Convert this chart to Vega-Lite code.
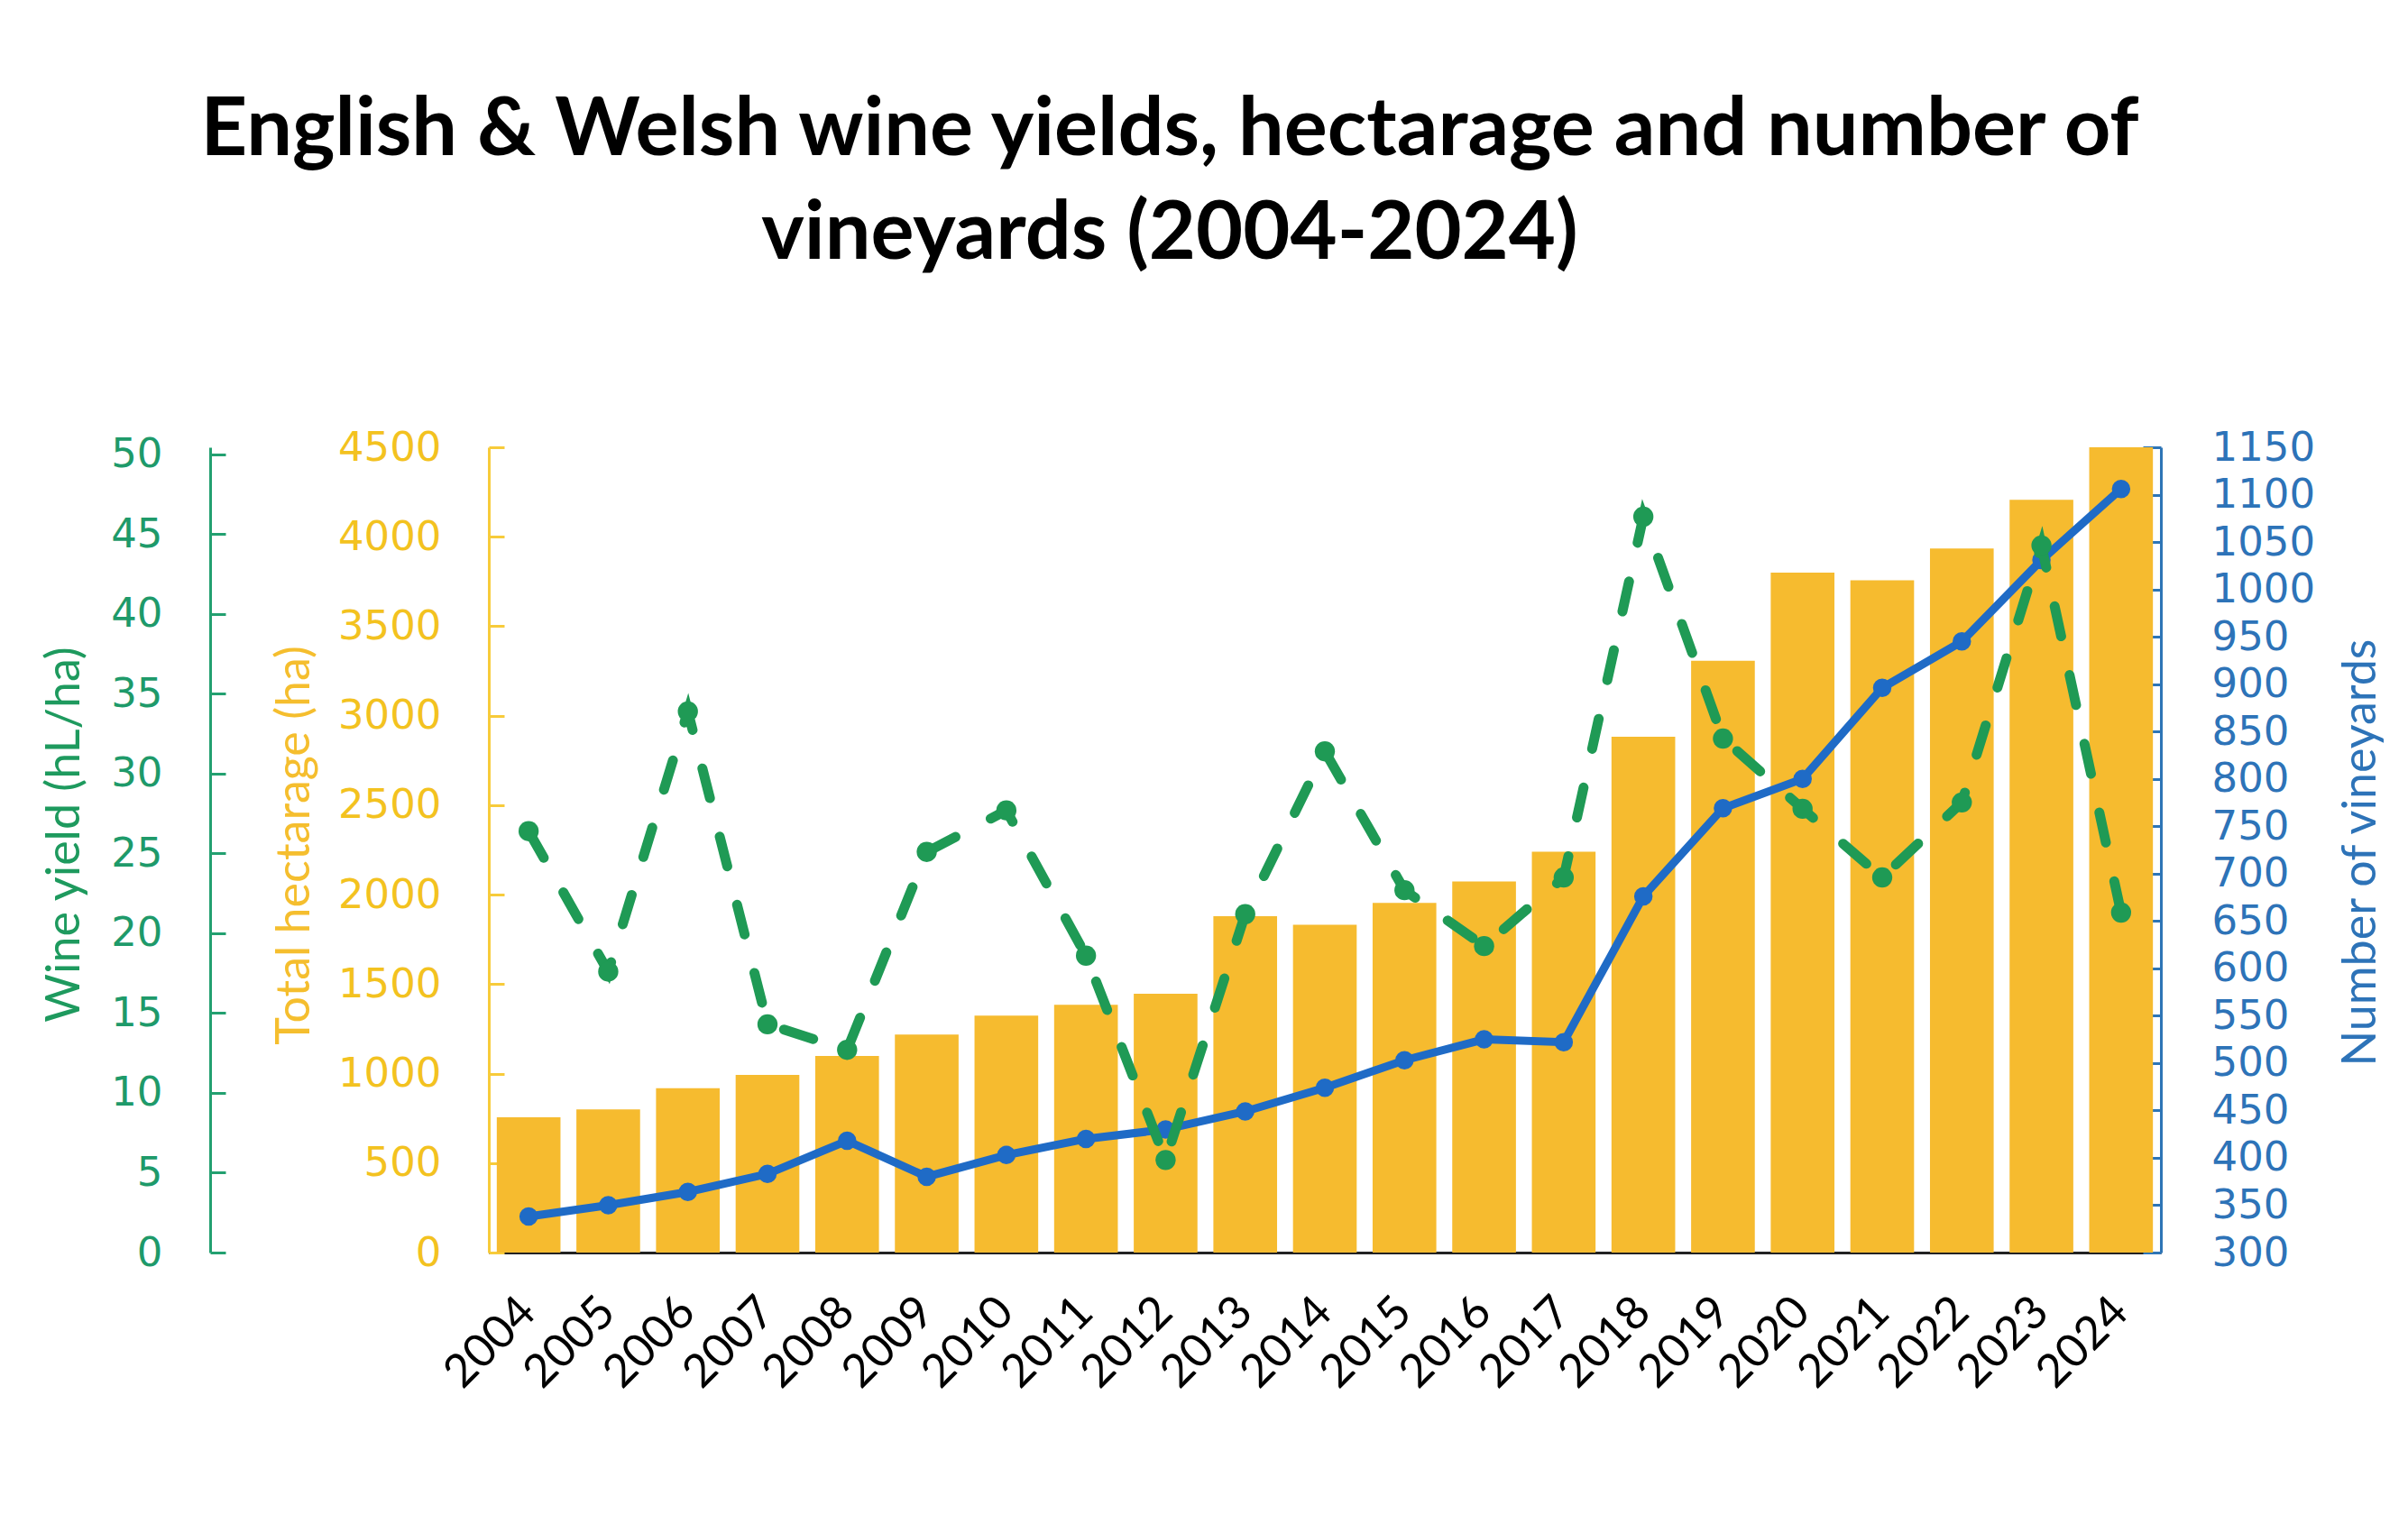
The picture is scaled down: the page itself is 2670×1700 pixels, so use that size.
{
  "$schema": "https://vega.github.io/schema/vega-lite/v6.json",
  "width": 1854,
  "height": 893,
  "autosize": {"type": "none"},
  "padding": {"left": 542, "top": 496, "right": 274, "bottom": 311},
  "background": "white",
  "title": {
    "text": ["English & Welsh wine yields, hectarage and number of", "vineyards (2004-2024)"],
    "font": "Lato",
    "fontSize": 90,
    "fontWeight": "bold",
    "color": "#000000",
    "lineHeight": 115,
    "anchor": "middle",
    "frame": "group",
    "dx": -172,
    "offset": 168
  },
  "data": {
    "values": [
      {"year": "2004", "ha": 756, "yield": 26.4, "vineyards": 338},
      {"year": "2005", "ha": 800, "yield": 17.6, "vineyards": 350},
      {"year": "2006", "ha": 919, "yield": 33.9, "vineyards": 364},
      {"year": "2007", "ha": 993, "yield": 14.3, "vineyards": 383},
      {"year": "2008", "ha": 1099, "yield": 12.7, "vineyards": 418},
      {"year": "2009", "ha": 1218, "yield": 25.1, "vineyards": 380},
      {"year": "2010", "ha": 1324, "yield": 27.7, "vineyards": 403},
      {"year": "2011", "ha": 1385, "yield": 18.6, "vineyards": 420},
      {"year": "2012", "ha": 1446, "yield": 5.8, "vineyards": 430},
      {"year": "2013", "ha": 1880, "yield": 21.2, "vineyards": 449},
      {"year": "2014", "ha": 1832, "yield": 31.4, "vineyards": 474},
      {"year": "2015", "ha": 1954, "yield": 22.7, "vineyards": 503},
      {"year": "2016", "ha": 2073, "yield": 19.2, "vineyards": 525},
      {"year": "2017", "ha": 2240, "yield": 23.5, "vineyards": 522},
      {"year": "2018", "ha": 2883, "yield": 46.1, "vineyards": 676},
      {"year": "2019", "ha": 3307, "yield": 32.2, "vineyards": 769},
      {"year": "2020", "ha": 3799, "yield": 27.8, "vineyards": 800},
      {"year": "2021", "ha": 3757, "yield": 23.5, "vineyards": 896},
      {"year": "2022", "ha": 3934, "yield": 28.2, "vineyards": 945},
      {"year": "2023", "ha": 4207, "yield": 44.3, "vineyards": 1031},
      {"year": "2024", "ha": 4500, "yield": 21.3, "vineyards": 1106}
    ]
  },
  "encoding": {
    "x": {
      "field": "year",
      "type": "ordinal",
      "scale": {"paddingInner": 0.2, "paddingOuter": 0.1},
      "axis": {
        "title": null,
        "labelAngle": -45,
        "labelAlign": "right",
        "labelBaseline": "middle",
        "labelFont": "Lato",
        "labelFontSize": 51,
        "labelColor": "#000000",
        "labelPadding": 58,
        "ticks": false,
        "domainColor": "#222222",
        "domainWidth": 3,
        "grid": false
      }
    }
  },
  "layer": [
    {
      "mark": {"type": "bar", "color": "#F6BB2F"},
      "encoding": {
        "y": {
          "field": "ha",
          "type": "quantitative",
          "scale": {"domain": [0, 4500], "nice": false},
          "axis": {
            "title": "Total hectarage (ha)",
            "orient": "left",
            "format": "d",
            "values": [0, 500, 1000, 1500, 2000, 2500, 3000, 3500, 4000, 4500],
            "grid": false,
            "domainColor": "#F7CB3A",
            "domainWidth": 3,
            "tickColor": "#F7CB3A",
            "tickWidth": 3,
            "tickSize": -17,
            "labelPadding": 70,
            "labelFont": "DejaVu Sans",
            "labelFontSize": 45,
            "labelColor": "#F3C21F",
            "titleFont": "Lato",
            "titleFontSize": 52,
            "titleFontWeight": "normal",
            "titleColor": "#F5BE2E",
            "titleAngle": 270,
            "titleX": -216,
            "titleY": 441,
            "titleBaseline": "middle"
          }
        }
      }
    },
    {
      "mark": {"type": "line", "color": "#1F6BC6", "strokeWidth": 9, "point": {"filled": true, "size": 420, "color": "#1F6BC6"}},
      "encoding": {
        "y": {
          "field": "vineyards",
          "type": "quantitative",
          "scale": {"domain": [300, 1150], "nice": false, "zero": false},
          "axis": {
            "title": "Number of vineyards",
            "orient": "right",
            "format": "d",
            "values": [300, 350, 400, 450, 500, 550, 600, 650, 700, 750, 800, 850, 900, 950, 1000, 1050, 1100, 1150],
            "grid": false,
            "domainColor": "#2E75B6",
            "domainWidth": 3,
            "tickColor": "#2E75B6",
            "tickWidth": 3,
            "tickSize": -20,
            "labelPadding": 76,
            "labelFont": "DejaVu Sans",
            "labelFontSize": 45,
            "labelColor": "#2D73B8",
            "titleFont": "Lato",
            "titleFontSize": 52,
            "titleFontWeight": "normal",
            "titleColor": "#2D73B8",
            "titleAngle": 270,
            "titleX": 221,
            "titleY": 449,
            "titleBaseline": "middle"
          }
        }
      }
    },
    {
      "mark": {"type": "line", "color": "#1F9A55", "strokeWidth": 11, "strokeDash": [34, 44], "strokeCap": "round", "point": {"filled": true, "size": 500, "color": "#1F9A55"}},
      "encoding": {
        "y": {
          "field": "yield",
          "type": "quantitative",
          "scale": {"domain": [0, 50.45], "nice": false},
          "axis": {
            "title": "Wine yield (hL/ha)",
            "orient": "left",
            "offset": 309,
            "format": "d",
            "values": [0, 5, 10, 15, 20, 25, 30, 35, 40, 45, 50],
            "grid": false,
            "domainColor": "#23A070",
            "domainWidth": 3,
            "tickColor": "#23A070",
            "tickWidth": 3,
            "tickSize": -17,
            "labelPadding": 70,
            "labelFont": "DejaVu Sans",
            "labelFontSize": 45,
            "labelColor": "#1E9A6A",
            "titleFont": "Lato",
            "titleFontSize": 52,
            "titleFontWeight": "normal",
            "titleColor": "#1E9A5E",
            "titleAngle": 270,
            "titleX": -162,
            "titleY": 429,
            "titleBaseline": "middle"
          }
        }
      }
    }
  ],
  "resolve": {"scale": {"y": "independent"}, "axis": {"y": "independent"}},
  "config": {"view": {"stroke": null}}
}
